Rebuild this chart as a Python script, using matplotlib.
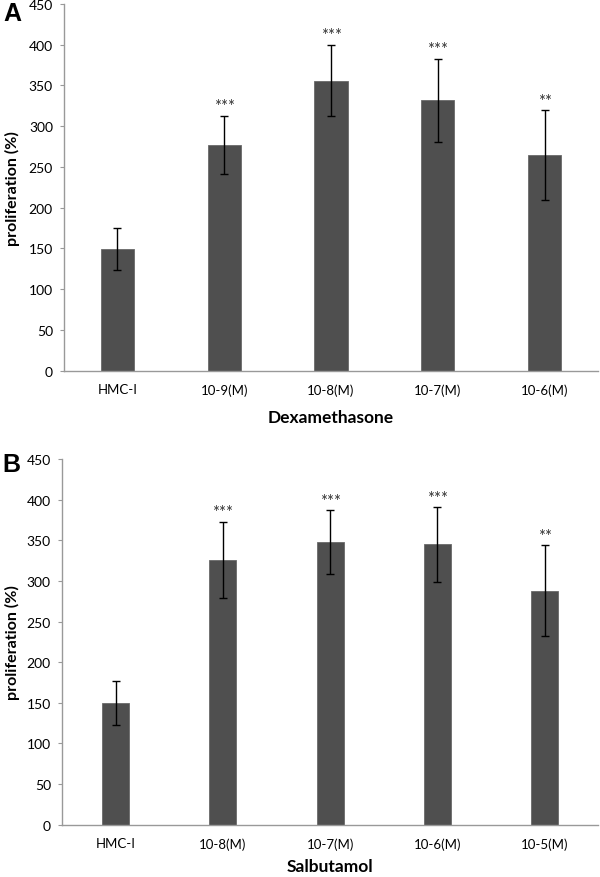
import matplotlib
matplotlib.use("Agg")
import matplotlib.pyplot as plt

cats_a = ["HMC-I", "10-9(M)", "10-8(M)", "10-7(M)", "10-6(M)"]
vals_a = [149, 277, 356, 332, 265]
errs_a = [26, 36, 44, 51, 55]
stars_a = ["", "***", "***", "***", "**"]

cats_b = ["HMC-I", "10-8(M)", "10-7(M)", "10-6(M)", "10-5(M)"]
vals_b = [150, 326, 348, 345, 288]
errs_b = [27, 47, 39, 46, 56]
stars_b = ["", "***", "***", "***", "**"]

yticks = [0, 50, 100, 150, 200, 250, 300, 350, 400, 450]

plt.rcParams['font.family'] = ['Lato', 'DejaVu Sans']

fig = plt.figure(figsize=(6, 8.78), dpi=100)
ax_a = fig.add_axes([0.1067, 0.5767, 0.89, 0.4176])
ax_b = fig.add_axes([0.1033, 0.0596, 0.894, 0.4165])

def draw(ax, cats, vals, errs, stars, width, xlabel, xlab_y, ylab_x, letter, letter_xy):
    x = list(range(len(cats)))
    ax.bar(x, vals, width=width, color="#4f4f4f", edgecolor="#6a6a6a", linewidth=0.6, zorder=2)
    ax.errorbar(x, vals, yerr=errs, fmt="none", ecolor="black", elinewidth=1.0,
                capsize=3, capthick=1.0, zorder=3)
    for xi, v, e, s in zip(x, vals, errs, stars):
        if s:
            ax.annotate(s, (xi, v + e), xytext=(0, 1), textcoords="offset points",
                        ha="center", va="bottom", fontsize=12, color="#333333")
    ax.set_xlim(-0.5, len(cats) - 0.5)
    ax.set_ylim(0, 450)
    ax.set_yticks(yticks)
    ax.set_yticklabels([str(t) for t in yticks], fontsize=10)
    ax.set_xticks(x)
    ax.set_xticklabels(cats, fontsize=9.5)
    ax.tick_params(axis="x", length=0, pad=9)
    ax.tick_params(axis="y", length=3, color="#999999", pad=5)
    for sp in ["top", "right"]:
        ax.spines[sp].set_visible(False)
    for sp in ["left", "bottom"]:
        ax.spines[sp].set_color("#999999")
        ax.spines[sp].set_linewidth(1.0)
    ax.set_ylabel("proliferation (%)", fontsize=11.5, fontweight="bold")
    ax.yaxis.set_label_coords(ylab_x, 0.5)
    ax.yaxis.label.set_va("center")
    ax.yaxis.label.set_ha("center")
    ax.set_xlabel(xlabel, fontsize=12.5, fontweight="bold")
    ax.xaxis.set_label_coords(0.5, xlab_y)
    ax.xaxis.label.set_va("center")
    fig.text(letter_xy[0], letter_xy[1], letter, fontsize=18, fontweight="bold",
             family=["Liberation Sans", "DejaVu Sans"], ha="center", va="center")

draw(ax_a, cats_a, vals_a, errs_a, stars_a, 0.31, "Dexamethasone", -0.126, -0.097, "A",
     (12 / 600, 1 - 14 / 878))
draw(ax_b, cats_b, vals_b, errs_b, stars_b, 0.25, "Salbutamol", -0.114, -0.093, "B",
     (11 / 600, 1 - 465 / 878))

fig.savefig("out.png", dpi=100)
